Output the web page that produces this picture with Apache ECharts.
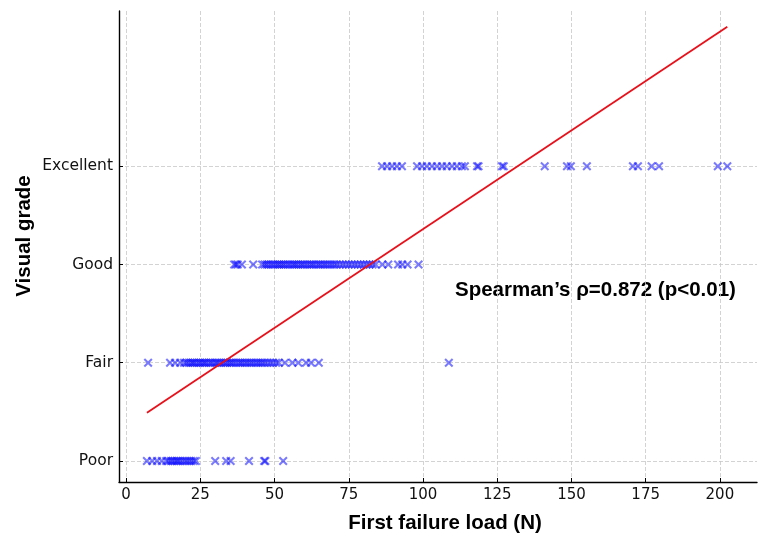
<!DOCTYPE html>
<html>
<head>
<meta charset="utf-8">
<script src="https://cdn.jsdelivr.net/npm/echarts@6/dist/echarts.min.js"></script>
<style>
html,body{margin:0;padding:0;background:#fff;}
#chart{width:770px;height:544px;}
</style>
</head>
<body>
<div id="chart"></div>
<script>
// Visual grade levels (y value index)
var gradeLabels = ['Poor', 'Fair', 'Good', 'Excellent'];
var xTicks = [0, 25, 50, 75, 100, 125, 150, 175, 200];
var yTicks = [0, 1, 2, 3];

// First failure load (N) per grade
var poorLoads = [7, 8.8, 10.4, 12, 13.5, 14.2, 15, 15.6, 16.3, 17, 17.5, 18.2, 19, 19.8, 20.5, 21.3, 22, 22.8, 23.5, 30, 33.7, 35.2, 41.4, 46.5, 46.9, 52.9];
var fairLoads = [7.4, 14.8, 16.5, 18.2, 19.5, 20.3, 21, 21.8, 22.4, 23, 23.7, 24.5, 25.1, 25.8, 26.4, 27, 27.8, 28.5, 29.2, 30, 30.6, 31.3, 32, 32.8, 33.5, 34.1, 34.9, 35.5, 36.2, 37, 37.8, 38.5, 39.2, 40, 40.7, 41.5, 42.2, 43, 43.8, 44.5, 45.3, 46, 46.8, 47.7, 48.6, 49.5, 50.5, 51.4, 53.5, 56, 58, 60.6, 62.3, 64.9, 108.7];
var goodLoads = [36.4, 37, 37.6, 39, 42.8, 45.8, 46.6, 47.3, 48, 48.8, 49.5, 50.2, 51, 51.6, 52.3, 53, 53.7, 54.5, 55.2, 56, 56.6, 57.3, 58, 58.8, 59.5, 60.2, 61, 61.8, 62.5, 63.2, 64, 64.8, 65.5, 66.3, 67, 67.8, 68.6, 69.4, 70.2, 71, 72, 73, 74, 75, 76, 77, 78, 79, 80, 81, 82, 83, 84, 86.3, 88.3, 91.6, 93, 94.8, 98.5];
var excellentLoads = [86.2, 87.9, 89.6, 91.2, 92.9, 98, 99.7, 101.3, 103, 104.7, 106.4, 108, 109.8, 111.4, 113.1, 114.1, 118.2, 118.7, 126.6, 127.2, 141, 148.5, 149.8, 155.2, 170.7, 172.4, 177, 179.5, 199.3, 202.5];

// Fitted trend line endpoints
var fitX = [7, 202.5];
var fitY = [0.49, 4.42];

var annotationText = 'Spearman\u2019s \u03c1=0.872 (p<0.01)';
var yTitle = 'Visual grade';
var xTitle = 'First failure load (N)';

var groups = [poorLoads, fairLoads, goodLoads, excellentLoads];
var scatterData = [];
groups.forEach(function (arr, g) {
  arr.forEach(function (v) { scatterData.push([v, g]); });
});
var lineData = fitX.map(function (x, i) { return [x, fitY[i]]; });

var crossPath = 'path://M1.6,0 L5,3.4 L8.4,0 L10,1.6 L6.6,5 L10,8.4 L8.4,10 L5,6.6 L1.6,10 L0,8.4 L3.4,5 L0,1.6 Z';

var tickFont = 'DejaVu Sans';
var titleStyle = {fontFamily: 'Liberation Sans', fontWeight: 'bold', fontSize: 20.5, fill: '#000', align: 'center', verticalAlign: 'middle'};
var chart = echarts.init(document.getElementById('chart'), null, {renderer: 'canvas'});
chart.setOption({
  animation: false,
  backgroundColor: '#ffffff',
  grid: {left: 119, right: 13, top: 11, bottom: 62, containLabel: false},
  xAxis: {
    type: 'value',
    min: -2.4,
    max: 212.5,
    axisLine: {show: true, onZero: false, lineStyle: {color: '#000', width: 1.4}},
    axisTick: {show: true, inside: true, length: 4, customValues: xTicks, lineStyle: {color: '#000'}},
    axisLabel: {customValues: xTicks, margin: 6, fontFamily: tickFont, fontSize: 15, color: '#111'},
    splitLine: {show: true, lineStyle: {color: '#c8c8c8', type: [4, 2], width: 0.8}}
  },
  yAxis: {
    type: 'value',
    min: -0.214,
    max: 4.58,
    axisLine: {show: true, onZero: false, lineStyle: {color: '#000', width: 1.4}},
    axisTick: {show: true, inside: true, length: 4, customValues: yTicks, lineStyle: {color: '#000'}},
    axisLabel: {
      customValues: yTicks, margin: 6, fontFamily: tickFont, fontSize: 15.5, color: '#111',
      formatter: function (v) { return gradeLabels[Math.round(v)] || ''; }
    },
    splitLine: {show: true, lineStyle: {color: '#c8c8c8', type: [4, 2], width: 0.8}}
  },
  series: [
    {
      type: 'scatter',
      data: scatterData,
      symbol: crossPath,
      symbolSize: 9,
      itemStyle: {color: 'rgba(0,0,255,0.65)'},
      z: 3
    },
    {
      type: 'line',
      data: lineData,
      showSymbol: false,
      symbol: 'none',
      lineStyle: {color: '#e8101a', width: 1.8},
      z: 4
    }
  ],
  graphic: [{
    type: 'text',
    left: 455,
    top: 280,
    silent: true,
    style: {text: annotationText, fontFamily: 'Liberation Sans', fontWeight: 'bold', fontSize: 20.5, fill: '#000'}
  }, {
    type: 'text',
    x: 24,
    y: 236,
    rotation: Math.PI / 2,
    silent: true,
    style: Object.assign({text: yTitle}, titleStyle)
  }, {
    type: 'text',
    x: 445,
    y: 523,
    silent: true,
    style: Object.assign({text: xTitle}, titleStyle)
  }]
});
</script>
</body>
</html>
